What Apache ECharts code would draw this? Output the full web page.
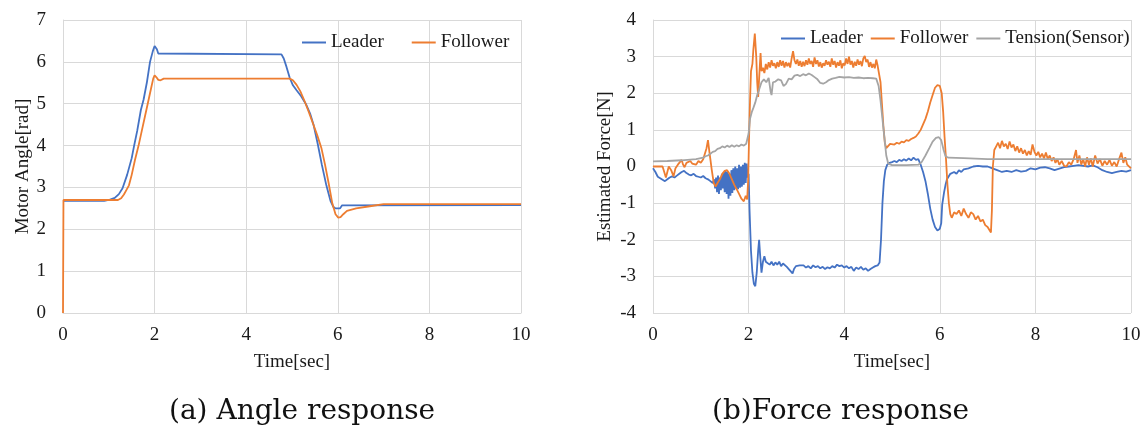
<!DOCTYPE html>
<html>
<head>
<meta charset="utf-8">
<script src="https://cdn.jsdelivr.net/npm/echarts@6/dist/echarts.min.js"></script>
<style>
  html, body { margin: 0; padding: 0; background: #fff; }
  #chart { width: 1145px; height: 429px; }
</style>
</head>
<body>
<div id="chart"></div>
<script>
// (a) 角度応答 [time(sec), angle(rad)]
const angleLeader = [
  [0, 2.68], [0.9, 2.68], [1.0, 2.7], [1.13, 2.75], [1.22, 2.84], [1.3, 2.98], [1.4, 3.3],
  [1.5, 3.7], [1.55, 3.98], [1.62, 4.35], [1.7, 4.85], [1.76, 5.1], [1.83, 5.5], [1.9, 6.0],
  [1.96, 6.25], [2.0, 6.38], [2.02, 6.4], [2.05, 6.3], [2.08, 6.2], [2.12, 6.18],
  [4.77, 6.18], [4.82, 6.08], [4.88, 5.88], [4.95, 5.62], [5.02, 5.44], [5.1, 5.32],
  [5.2, 5.18], [5.31, 4.98], [5.4, 4.75], [5.47, 4.5], [5.56, 4.05], [5.65, 3.55],
  [5.75, 3.05], [5.84, 2.68], [5.9, 2.54], [5.95, 2.5], [6.05, 2.5], [6.09, 2.57],
  [6.12, 2.58], [10, 2.58]
];
const angleFollower = [
  [0, 0], [0.01, 2.7], [1.2, 2.7], [1.27, 2.74], [1.33, 2.83], [1.38, 2.93], [1.44, 3.05],
  [1.5, 3.3], [1.57, 3.65], [1.65, 4.0], [1.72, 4.35], [1.79, 4.7], [1.85, 5.0],
  [1.92, 5.35], [1.97, 5.6], [2.0, 5.68], [2.04, 5.63], [2.08, 5.57], [2.13, 5.56],
  [2.17, 5.6], [2.2, 5.6], [4.95, 5.6], [5.02, 5.56], [5.1, 5.45], [5.18, 5.3],
  [5.26, 5.1], [5.35, 4.85], [5.45, 4.55], [5.55, 4.25], [5.64, 3.95], [5.72, 3.55],
  [5.8, 3.1], [5.88, 2.62], [5.95, 2.36], [6.01, 2.28], [6.06, 2.29], [6.12, 2.36],
  [6.2, 2.44], [6.4, 2.5], [6.7, 2.55], [7.0, 2.6], [10, 2.6]
];

// (b) 力応答 [time(sec), force(N)]
const forceLeader = [
  [0, -0.05], [0.05, -0.15], [0.1, -0.28], [0.15, -0.32], [0.2, -0.36], [0.25, -0.4],
  [0.3, -0.35], [0.35, -0.3], [0.4, -0.27], [0.45, -0.3], [0.5, -0.25], [0.55, -0.2],
  [0.6, -0.15], [0.65, -0.12], [0.7, -0.18], [0.75, -0.22], [0.8, -0.24], [0.85, -0.2],
  [0.9, -0.26], [0.95, -0.28], [1.0, -0.3], [1.05, -0.26], [1.1, -0.32], [1.15, -0.35],
  [1.2, -0.4], [1.25, -0.45], [1.28, -0.35],
  [1.3, -0.6], [1.32, -0.3], [1.34, -0.7], [1.36, -0.25], [1.38, -0.75], [1.4, -0.3],
  [1.42, -0.65], [1.44, -0.2], [1.46, -0.6], [1.48, -0.15], [1.5, -0.7], [1.52, -0.1],
  [1.54, -0.75], [1.56, -0.15], [1.58, -0.88], [1.6, -0.2], [1.62, -0.8], [1.64, -0.1],
  [1.66, -0.72], [1.68, -0.05], [1.7, -0.65], [1.72, 0.0], [1.74, -0.6], [1.76, -0.05],
  [1.78, -0.62], [1.8, 0.05], [1.82, -0.58], [1.84, 0.0], [1.86, -0.55], [1.88, 0.05],
  [1.9, -0.5], [1.92, 0.1], [1.94, -0.45], [1.96, 0.08], [1.98, -0.3], [2.0, -0.2],
  [2.02, -1.2], [2.05, -2.3], [2.08, -2.9], [2.11, -3.2], [2.14, -3.27], [2.17, -2.9],
  [2.2, -2.3], [2.22, -2.0], [2.24, -2.4], [2.27, -2.9], [2.3, -2.6], [2.33, -2.45],
  [2.36, -2.6], [2.4, -2.55], [2.44, -2.68], [2.48, -2.6], [2.52, -2.7], [2.56, -2.62],
  [2.6, -2.68], [2.64, -2.6], [2.68, -2.72], [2.72, -2.65], [2.76, -2.7], [2.8, -2.74],
  [2.84, -2.8], [2.88, -2.85], [2.92, -2.92], [2.95, -2.8], [2.99, -2.72], [3.03, -2.76],
  [3.07, -2.7], [3.11, -2.74], [3.15, -2.7], [3.2, -2.76], [3.25, -2.72], [3.3, -2.78],
  [3.35, -2.7], [3.4, -2.75], [3.45, -2.72], [3.5, -2.78], [3.55, -2.74], [3.6, -2.8],
  [3.65, -2.75], [3.7, -2.78], [3.75, -2.72], [3.8, -2.76], [3.85, -2.68], [3.9, -2.72],
  [3.95, -2.7], [4.0, -2.76], [4.05, -2.72], [4.1, -2.78], [4.15, -2.74], [4.2, -2.85],
  [4.25, -2.76], [4.3, -2.8], [4.35, -2.74], [4.4, -2.82], [4.45, -2.78], [4.5, -2.85],
  [4.55, -2.8], [4.6, -2.76], [4.65, -2.72], [4.7, -2.7], [4.74, -2.62], [4.77, -2.0],
  [4.8, -1.0], [4.83, -0.4], [4.86, -0.1], [4.9, 0.05], [4.95, 0.1], [5.0, 0.12],
  [5.05, 0.15], [5.1, 0.12], [5.15, 0.18], [5.2, 0.15], [5.25, 0.2], [5.3, 0.16],
  [5.35, 0.22], [5.4, 0.17], [5.45, 0.24], [5.5, 0.18], [5.55, 0.2], [5.6, 0.05],
  [5.65, -0.15], [5.7, -0.4], [5.75, -0.75], [5.8, -1.15], [5.85, -1.45], [5.9, -1.65],
  [5.95, -1.75], [6.0, -1.7], [6.03, -1.55], [6.05, -1.05], [6.07, -1.0], [6.09, -0.7],
  [6.12, -0.5], [6.15, -0.35], [6.18, -0.3], [6.22, -0.2], [6.26, -0.25], [6.3, -0.15],
  [6.35, -0.2], [6.4, -0.1], [6.45, -0.15], [6.5, -0.08], [6.6, -0.05], [6.7, 0.0],
  [6.8, 0.02], [6.9, 0.0], [7.0, 0.0], [7.1, -0.05], [7.2, -0.1], [7.3, -0.15],
  [7.4, -0.12], [7.5, -0.15], [7.6, -0.1], [7.7, -0.14], [7.8, -0.12], [7.9, -0.05],
  [8.0, -0.08], [8.1, -0.03], [8.2, -0.02], [8.3, -0.05], [8.4, -0.1], [8.5, -0.06],
  [8.6, -0.02], [8.7, 0.0], [8.8, 0.02], [8.9, 0.04], [9.0, 0.02], [9.1, 0.0],
  [9.2, 0.03], [9.3, -0.02], [9.4, -0.1], [9.5, -0.15], [9.6, -0.18], [9.7, -0.15],
  [9.8, -0.12], [9.9, -0.14], [10, -0.1]
];
const forceFollower = [
  [0, 0.0], [0.2, 0.0], [0.24, -0.05], [0.27, -0.3], [0.3, -0.15], [0.33, 0.0],
  [0.38, -0.1], [0.43, -0.27], [0.47, -0.05], [0.52, 0.05], [0.56, 0.1], [0.6, 0.18],
  [0.63, 0.05], [0.66, -0.02], [0.7, 0.1], [0.74, 0.05], [0.78, 0.15], [0.82, 0.08],
  [0.86, 0.12], [0.9, 0.05], [0.95, 0.15], [1.0, 0.1], [1.05, 0.2], [1.09, 0.15],
  [1.12, 0.5], [1.15, 0.72], [1.18, 0.4], [1.2, 0.2], [1.23, -0.1], [1.27, -0.45],
  [1.31, -0.55], [1.35, -0.45], [1.4, -0.35], [1.45, -0.2], [1.5, -0.12], [1.55, -0.1],
  [1.6, -0.2], [1.65, -0.35], [1.7, -0.5], [1.75, -0.62], [1.8, -0.75], [1.85, -0.88],
  [1.9, -0.95], [1.94, -0.8], [1.97, -0.9], [1.99, -0.4], [2.01, 0.8], [2.03, 1.8],
  [2.05, 2.6], [2.08, 2.8], [2.1, 3.2], [2.13, 3.63], [2.16, 3.0], [2.18, 2.3],
  [2.2, 1.9], [2.22, 2.4], [2.25, 3.1], [2.27, 2.6], [2.3, 2.7], [2.33, 2.55],
  [2.36, 2.8], [2.39, 2.65], [2.42, 2.85], [2.45, 2.7], [2.48, 2.9], [2.51, 2.75],
  [2.54, 2.82], [2.57, 2.68], [2.6, 2.85], [2.63, 2.72], [2.66, 2.9], [2.69, 2.75],
  [2.72, 2.88], [2.75, 2.7], [2.78, 2.85], [2.81, 2.74], [2.84, 2.83], [2.87, 2.7],
  [2.9, 2.95], [2.93, 3.15], [2.96, 2.9], [2.99, 2.8], [3.02, 2.92], [3.05, 2.75],
  [3.08, 2.88], [3.11, 2.72], [3.14, 2.86], [3.17, 2.74], [3.2, 2.9], [3.23, 2.78],
  [3.26, 2.95], [3.29, 2.8], [3.32, 2.88], [3.35, 2.72], [3.38, 2.98], [3.41, 2.8],
  [3.44, 2.9], [3.47, 2.73], [3.5, 2.85], [3.53, 2.7], [3.56, 2.82], [3.59, 2.75],
  [3.62, 2.9], [3.65, 2.78], [3.68, 2.86], [3.71, 2.72], [3.74, 2.95], [3.77, 2.78],
  [3.8, 2.88], [3.83, 2.7], [3.86, 2.85], [3.89, 2.75], [3.92, 2.9], [3.95, 2.68],
  [3.98, 2.82], [4.01, 2.76], [4.04, 2.95], [4.07, 2.8], [4.1, 3.0], [4.13, 2.78],
  [4.16, 2.88], [4.19, 2.7], [4.22, 2.86], [4.25, 2.75], [4.28, 2.92], [4.31, 2.78],
  [4.34, 2.88], [4.37, 2.74], [4.4, 2.95], [4.43, 3.02], [4.46, 2.85], [4.49, 2.92],
  [4.52, 2.72], [4.55, 2.85], [4.58, 2.7], [4.61, 2.8], [4.64, 2.68], [4.67, 2.92],
  [4.7, 2.75], [4.73, 2.7], [4.76, 2.3], [4.79, 1.7], [4.82, 1.1], [4.85, 0.65],
  [4.88, 0.5], [4.92, 0.55], [4.96, 0.62], [5.0, 0.58], [5.05, 0.6], [5.1, 0.65],
  [5.15, 0.62], [5.2, 0.68], [5.25, 0.66], [5.3, 0.72], [5.35, 0.7], [5.4, 0.75],
  [5.45, 0.78], [5.5, 0.82], [5.55, 0.9], [5.6, 1.0], [5.65, 1.15], [5.7, 1.3],
  [5.75, 1.5], [5.8, 1.75], [5.85, 1.95], [5.9, 2.15], [5.95, 2.22], [6.0, 2.2],
  [6.04, 2.0], [6.07, 1.5], [6.1, 0.8], [6.13, 0.2], [6.16, -0.5], [6.19, -1.0],
  [6.22, -1.3], [6.25, -1.4], [6.3, -1.25], [6.35, -1.3], [6.4, -1.2], [6.45, -1.35],
  [6.5, -1.15], [6.55, -1.3], [6.6, -1.4], [6.65, -1.25], [6.7, -1.3], [6.75, -1.45],
  [6.8, -1.35], [6.85, -1.5], [6.9, -1.45], [6.95, -1.6], [7.0, -1.65], [7.04, -1.7],
  [7.07, -1.8], [7.09, -1.2], [7.11, 0.0], [7.14, 0.45], [7.18, 0.55], [7.22, 0.65],
  [7.26, 0.5], [7.3, 0.7], [7.34, 0.55], [7.38, 0.62], [7.42, 0.48], [7.46, 0.68],
  [7.5, 0.52], [7.54, 0.6], [7.58, 0.42], [7.62, 0.55], [7.66, 0.38], [7.7, 0.5],
  [7.74, 0.35], [7.78, 0.45], [7.82, 0.3], [7.86, 0.42], [7.9, 0.32], [7.94, 0.6],
  [7.98, 0.4], [8.02, 0.3], [8.06, 0.4], [8.1, 0.25], [8.14, 0.35], [8.18, 0.22],
  [8.22, 0.38], [8.26, 0.2], [8.3, 0.3], [8.34, 0.15], [8.38, 0.25], [8.42, 0.1],
  [8.46, 0.2], [8.5, 0.05], [8.55, 0.15], [8.6, 0.02], [8.65, 0.0], [8.7, 0.12],
  [8.75, 0.05], [8.8, 0.2], [8.85, 0.45], [8.88, 0.1], [8.92, 0.3], [8.96, 0.05],
  [9.0, 0.2], [9.04, 0.0], [9.08, 0.25], [9.12, 0.05], [9.16, 0.22], [9.2, 0.0],
  [9.25, 0.3], [9.3, 0.08], [9.35, 0.2], [9.4, 0.02], [9.45, 0.15], [9.5, 0.05],
  [9.55, 0.18], [9.6, 0.02], [9.65, 0.12], [9.7, 0.0], [9.75, 0.2], [9.8, 0.38],
  [9.84, 0.1], [9.88, 0.25], [9.92, 0.05], [9.96, 0.1], [10, -0.05]
];
const forceTension = [
  [0, 0.14], [0.3, 0.15], [0.6, 0.17], [0.9, 0.2], [1.05, 0.24], [1.1, 0.28],
  [1.15, 0.3], [1.2, 0.35], [1.25, 0.4], [1.3, 0.42], [1.35, 0.48], [1.4, 0.5],
  [1.45, 0.55], [1.5, 0.52], [1.55, 0.57], [1.6, 0.53], [1.65, 0.58], [1.7, 0.54],
  [1.75, 0.58], [1.8, 0.55], [1.85, 0.6], [1.9, 0.57], [1.95, 0.62], [1.98, 0.65],
  [2.0, 0.9], [2.03, 1.3], [2.07, 1.5], [2.1, 1.6], [2.14, 1.75], [2.18, 1.95],
  [2.22, 2.1], [2.27, 2.3], [2.32, 2.38], [2.37, 2.3], [2.42, 2.42], [2.46, 2.05],
  [2.48, 1.95], [2.51, 2.3], [2.56, 2.32], [2.62, 2.38], [2.68, 2.35], [2.73, 2.2],
  [2.78, 2.25], [2.84, 2.4], [2.9, 2.38], [2.96, 2.48], [3.02, 2.5], [3.08, 2.47],
  [3.14, 2.52], [3.2, 2.49], [3.26, 2.54], [3.32, 2.5], [3.38, 2.44], [3.44, 2.38],
  [3.5, 2.28], [3.56, 2.26], [3.62, 2.3], [3.68, 2.36], [3.75, 2.4], [3.82, 2.42],
  [3.9, 2.45], [4.0, 2.43], [4.1, 2.44], [4.2, 2.42], [4.3, 2.43], [4.4, 2.41],
  [4.5, 2.42], [4.6, 2.41], [4.67, 2.4], [4.72, 2.2], [4.76, 1.8], [4.8, 1.3],
  [4.84, 0.8], [4.88, 0.3], [4.92, 0.08], [5.0, 0.04], [5.3, 0.04], [5.55, 0.05],
  [5.62, 0.12], [5.7, 0.3], [5.78, 0.5], [5.85, 0.68], [5.92, 0.78], [5.98, 0.8],
  [6.03, 0.72], [6.08, 0.45], [6.12, 0.28], [6.18, 0.24], [6.5, 0.23], [7.0, 0.2],
  [8.0, 0.2], [9.0, 0.2], [10, 0.2]
];

const timeTicks = { min: 0, max: 10, interval: 2 };
const angleTicks = { min: 0, max: 7, interval: 1 };
const forceTicks = { min: -4, max: 4, interval: 1 };

const FONT = 'Liberation Serif';
const BLUE = '#4472C4', ORANGE = '#ED7D31', GRAY = '#A5A5A5';
const GRID_COLOR = '#d9d9d9';

const chart = echarts.init(document.getElementById('chart'));

function xAxisOf(gridIndex) {
  return {
    type: 'value', gridIndex: gridIndex,
    min: timeTicks.min, max: timeTicks.max, interval: timeTicks.interval,
    name: 'Time[sec]', nameLocation: 'middle', nameGap: 40,
    nameTextStyle: { fontFamily: FONT, fontSize: 19, color: '#1a1a1a' },
    axisLine: { show: true, lineStyle: { color: GRID_COLOR, width: 1 } },
    axisTick: { show: false },
    axisLabel: { fontFamily: FONT, fontSize: 19, color: '#1a1a1a', margin: 13 },
    splitLine: { show: true, lineStyle: { color: GRID_COLOR, width: 1 } }
  };
}

function yAxisOf(gridIndex, ticks, name, gap) {
  return {
    type: 'value', gridIndex: gridIndex,
    min: ticks.min, max: ticks.max, interval: ticks.interval,
    name: name, nameLocation: 'middle', nameGap: gap,
    nameTextStyle: { fontFamily: FONT, fontSize: 19, color: '#1a1a1a' },
    axisLine: { show: true, lineStyle: { color: GRID_COLOR, width: 1 } },
    axisTick: { show: false },
    axisLabel: { fontFamily: FONT, fontSize: 19, color: '#1a1a1a', margin: 17 },
    splitLine: { show: true, lineStyle: { color: GRID_COLOR, width: 1 } }
  };
}

function lineOf(name, data, color, axisIndex) {
  return {
    name: name, type: 'line', data: data,
    xAxisIndex: axisIndex, yAxisIndex: axisIndex,
    showSymbol: false, symbol: 'none',
    lineStyle: { color: color, width: 1.8 },
    itemStyle: { color: color }
  };
}

const legendBase = {
  orient: 'horizontal', icon: 'rect', itemWidth: 24, itemHeight: 2,
  padding: 0, selectedMode: false,
  textStyle: { fontFamily: FONT, fontSize: 19, color: '#1a1a1a' }
};

const option = {
  animation: false,
  backgroundColor: '#fff',
  grid: [
    { left: 63, top: 20, width: 458, height: 293 },
    { left: 653, top: 20, width: 478, height: 293 }
  ],
  xAxis: [xAxisOf(0), xAxisOf(1)],
  yAxis: [
    yAxisOf(0, angleTicks, 'Motor Angle[rad]', 29),
    yAxisOf(1, forceTicks, 'Estimated Force[N]', 38)
  ],
  legend: [
    Object.assign({}, legendBase, { left: 302, top: 33, itemGap: 28, data: ['Leader', 'Follower'] }),
    Object.assign({}, legendBase, { left: 781, top: 29, itemGap: 8, data: ['Leader', 'Follower', 'Tension(Sensor)'] })
  ],
  series: [
    lineOf('Leader', angleLeader, BLUE, 0),
    lineOf('Follower', angleFollower, ORANGE, 0),
    lineOf('Leader', forceLeader, BLUE, 1),
    lineOf('Follower', forceFollower, ORANGE, 1),
    lineOf('Tension(Sensor)', forceTension, GRAY, 1)
  ],
  graphic: [
    {
      type: 'text', left: 169, top: 398,
      style: { text: '(a) Angle response', font: '28px "DejaVu Serif"', fill: '#111' }
    },
    {
      type: 'text', left: 712, top: 398,
      style: { text: '(b)Force response', font: '28px "DejaVu Serif"', fill: '#111' }
    }
  ]
};

chart.setOption(option);
</script>
</body>
</html>
